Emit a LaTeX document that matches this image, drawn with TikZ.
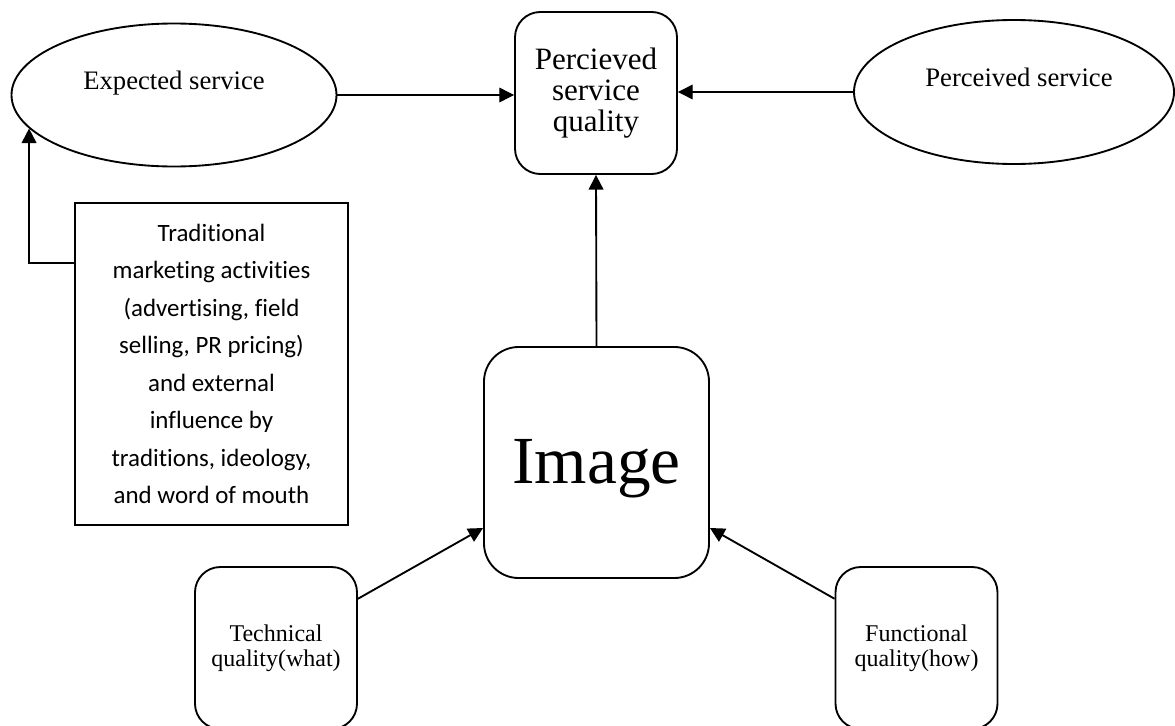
\documentclass[tikz,border=0pt]{standalone}
\usepackage{fontspec}
\setmainfont{Liberation Serif}
\newfontfamily\calfont[Ligatures=NoCommon]{Carlito}
\usetikzlibrary{shapes.geometric,arrows.meta,calc}
\begin{document}
\begin{tikzpicture}[x=0.75pt,y=-0.75pt,
  shapeline/.style={draw=black,line width=1.4pt},
  oval/.style={shapeline,ellipse,inner sep=0pt},
  rbox/.style={shapeline,rounded corners=19pt,align=center,inner sep=0pt},
  sqbox/.style={shapeline,align=center,inner sep=0pt},
  arr/.style={-{Triangle[length=11pt,width=11pt]},line width=1.4pt},
  thinarr/.style={-{Triangle[length=11pt,width=11pt]},line width=0.8pt}]
\useasboundingbox (0,0) rectangle (1175,725);
\clip (0,0) rectangle (1175,725);
% nodes
\node[oval,minimum width=243.75pt,minimum height=107.25pt,font=\fontsize{20}{24}\selectfont] (exp) at (174,95)
  {\raisebox{4pt}[0pt][0pt]{Expected service}};
\node[oval,minimum width=240pt,minimum height=108pt,font=\fontsize{20}{24}\selectfont] (per) at (1014,92)
  {\raisebox{4pt}[0pt][0pt]{\hspace{7.5pt}Perceived service}};
\node[rbox,minimum width=121.5pt,minimum height=121.5pt,font=\fontsize{23.3}{23.3}\selectfont] (psq) at (596,93)
  {Percieved\\service\\quality};
\node[rbox,rounded corners=26pt,minimum width=168.75pt,minimum height=173.25pt,font=\fontsize{50.5}{55}\selectfont] (img) at (596.5,462.5)
  {\raisebox{-16pt}[0pt][0pt]{Image}};
\node[sqbox,minimum width=204.75pt,minimum height=241.5pt,font=\calfont\fontsize{18.7}{28.1}\selectfont] (txt) at (211.5,364)
  {Traditional\\marketing activities\\(advertising, field\\selling, PR pricing)\\and external\\influence by\\traditions, ideology,\\and word of mouth};
\node[rbox,minimum width=121.5pt,minimum height=121.5pt,font=\fontsize{18}{18.75}\selectfont] (tech) at (276,648)
  {Technical\\quality(what)};
\node[rbox,minimum width=121.5pt,minimum height=121.5pt,font=\fontsize{18}{18.75}\selectfont] (func) at (916.5,648)
  {Functional\\quality(how)};
% connectors
\draw[thinarr] (exp.east) -- (exp.east -| psq.west);
\draw[thinarr] (per.west) -- (per.west -| psq.east);
\draw[arr] (img.north) -- (psq.south);
\draw[arr] (tech.31) -- (img.210);
\draw[arr] (func.149) -- (img.330);
\coordinate (bend) at (0,263);
\draw[arr] (txt.west |- bend) -| (exp.193);
\end{tikzpicture}
\end{document}
